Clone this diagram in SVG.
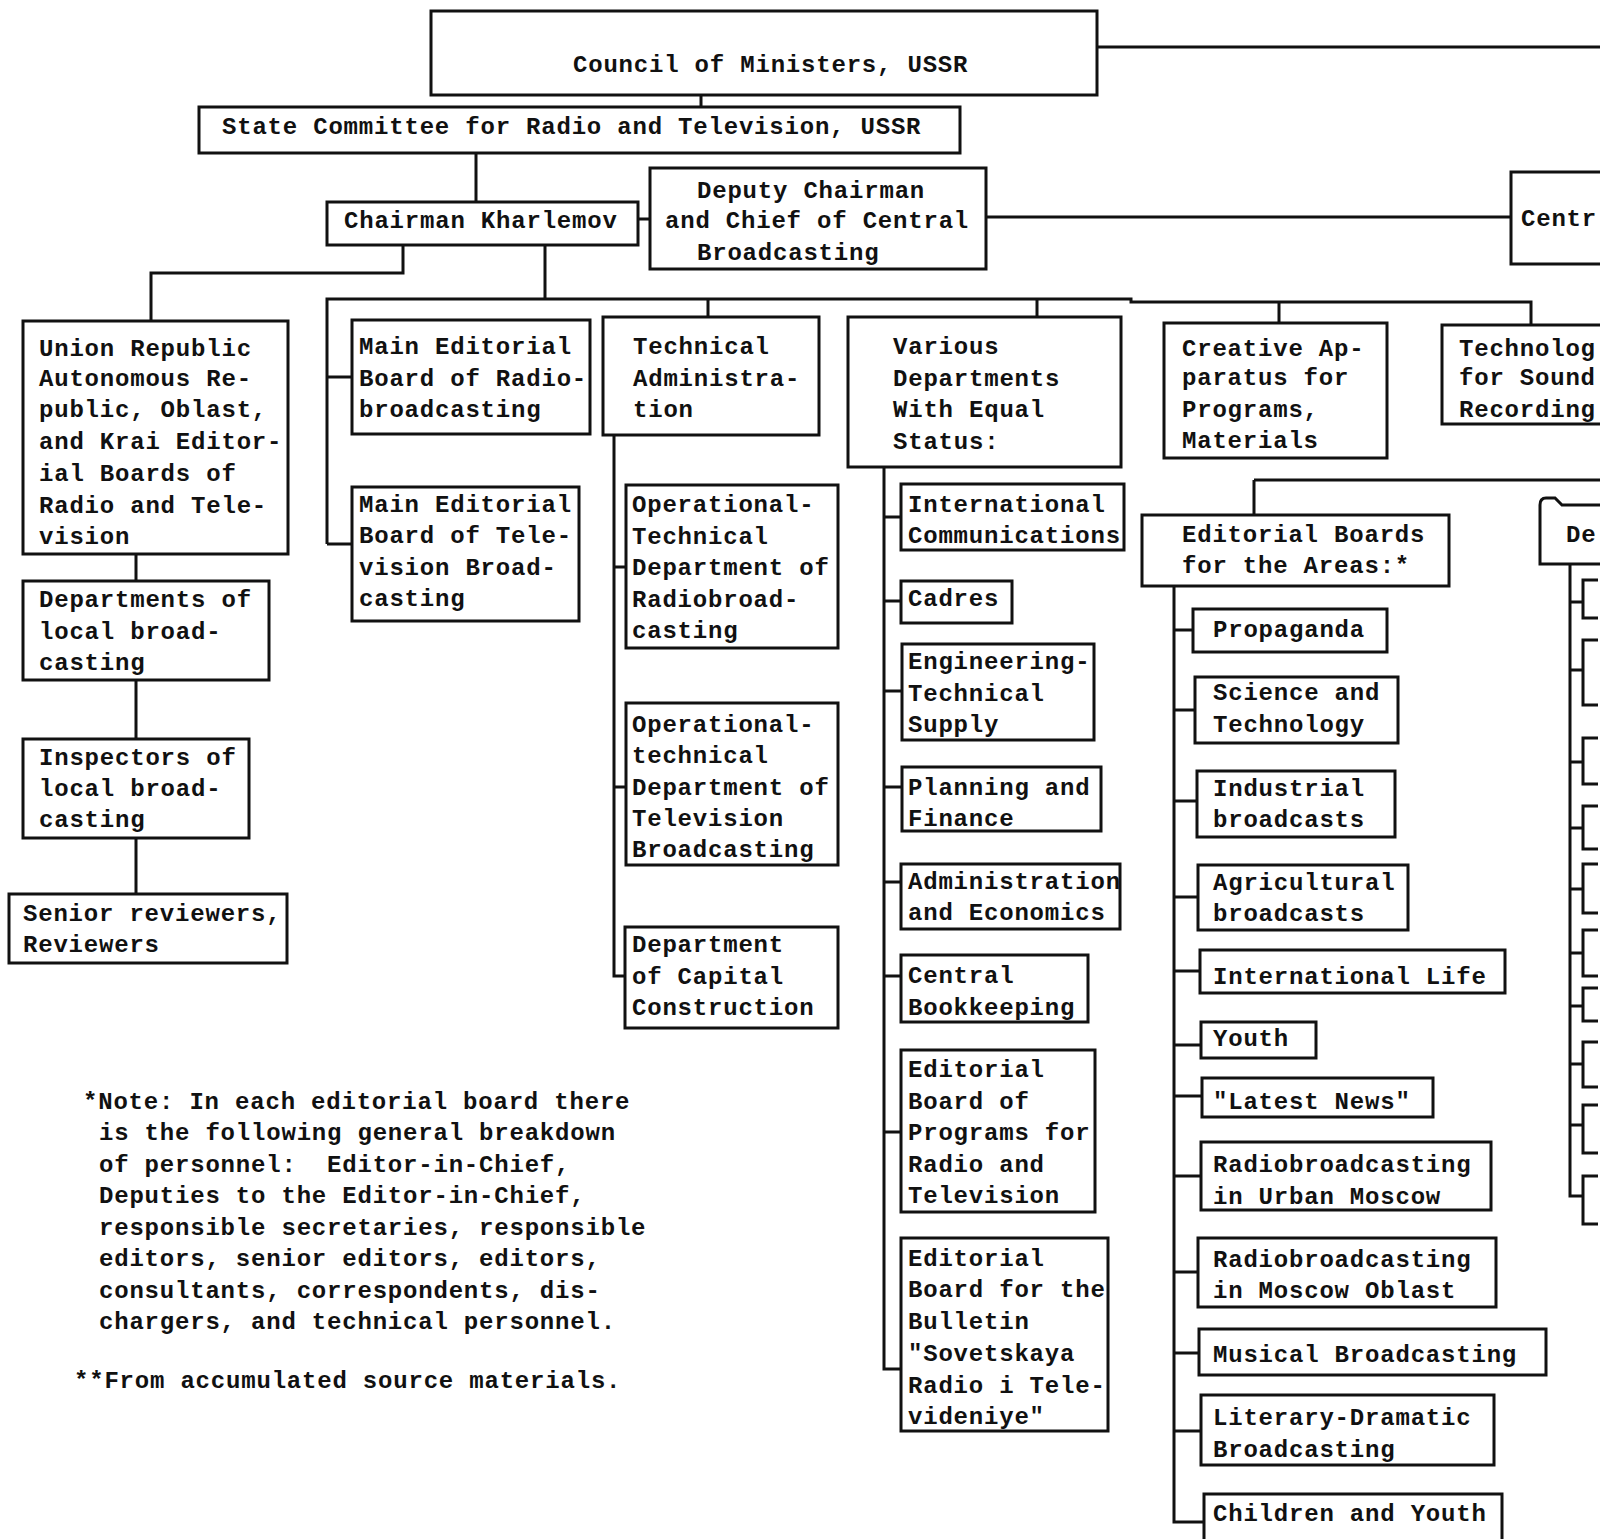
<svg xmlns="http://www.w3.org/2000/svg" width="1617" height="1539" viewBox="0 0 1617 1539">
<style>
.b{fill:#fff;stroke:#111;stroke-width:3}
.o{fill:none;stroke:#111;stroke-width:3}
.c{fill:none;stroke:#111;stroke-width:3}
text{font-family:"Liberation Mono","DejaVu Sans Mono",monospace;font-size:24px;font-weight:bold;letter-spacing:0.8px;fill:#111}
</style>
<rect width="1617" height="1539" fill="#fff"/>
<g id="connectors">
<path class="c" d="M1097,47H1600 M701,95V107 M476,153V202 M638,219H650 M986,217H1511"/>
<path class="c" d="M403,245V273H151V321 M545,245V299 M327,544V299H1131V302H1531V325 M708,299V317 M1037,299V317 M1279,302V323 M327,377H352 M327,544H352"/>
<path class="c" d="M136,554V581 M136,680V739 M136,838V894"/>
<path class="c" d="M614,435V976H625 M614,567H626 M614,787H626"/>
<path class="c" d="M884,467V1369H901 M884,517H901 M884,601H901 M884,691H902 M884,787H902 M884,882H901 M884,976H901 M884,1132H901"/>
<path class="c" d="M1254,480H1600 M1254,480V515 M1174,586V1522H1204 M1174,630H1193 M1174,710H1195 M1174,801H1197 M1174,897H1198 M1174,971H1200 M1174,1045H1201 M1174,1096H1202 M1174,1176H1201 M1174,1272H1198 M1174,1353H1199 M1174,1431H1201"/>
<path class="c" d="M1570,564V1196H1583 M1570,602H1583 M1570,670H1583 M1570,762H1583 M1570,828H1583 M1570,889H1583 M1570,953H1583 M1570,1006H1583 M1570,1064H1583 M1570,1125H1583"/>
</g>
<g id="council"><rect class="b" x="431" y="11" width="666" height="84"/><text x="573" y="72">Council of Ministers, USSR</text></g>
<g id="state-committee"><rect class="b" x="199" y="107" width="761" height="46"/><text x="222" y="134">State Committee for Radio and Television, USSR</text></g>
<g id="chairman"><rect class="b" x="327" y="202" width="311" height="43"/><text x="344" y="228">Chairman Kharlemov</text></g>
<g id="deputy"><rect class="b" x="650" y="168" width="336" height="101"/><text><tspan x="697" y="198">Deputy Chairman</tspan><tspan x="665" y="228">and Chief of Central</tspan><tspan x="697" y="260">Broadcasting</tspan></text></g>
<g id="central-clipped"><path class="o" d="M1600,172H1511V264H1600"/><text x="1521" y="226">Centr</text></g>
<g id="union-republic"><rect class="b" x="23" y="321" width="265" height="233"/><text><tspan x="39" y="356">Union Republic</tspan><tspan x="39" y="386">Autonomous Re-</tspan><tspan x="39" y="417">public, Oblast,</tspan><tspan x="39" y="449">and Krai Editor-</tspan><tspan x="39" y="481">ial Boards of</tspan><tspan x="39" y="513">Radio and Tele-</tspan><tspan x="39" y="544">vision</tspan></text></g>
<g id="dept-local"><rect class="b" x="23" y="581" width="246" height="99"/><text><tspan x="39" y="607">Departments of</tspan><tspan x="39" y="639">local broad-</tspan><tspan x="39" y="670">casting</tspan></text></g>
<g id="inspectors"><rect class="b" x="23" y="739" width="226" height="99"/><text><tspan x="39" y="765">Inspectors of</tspan><tspan x="39" y="796">local broad-</tspan><tspan x="39" y="827">casting</tspan></text></g>
<g id="reviewers"><rect class="b" x="9" y="894" width="278" height="69"/><text><tspan x="23" y="921">Senior reviewers,</tspan><tspan x="23" y="952">Reviewers</tspan></text></g>
<g id="main-radio"><rect class="b" x="352" y="320" width="238" height="114"/><text><tspan x="359" y="354">Main Editorial</tspan><tspan x="359" y="386">Board of Radio-</tspan><tspan x="359" y="417">broadcasting</tspan></text></g>
<g id="main-tv"><rect class="b" x="352" y="487" width="227" height="134"/><text><tspan x="359" y="512">Main Editorial</tspan><tspan x="359" y="543">Board of Tele-</tspan><tspan x="359" y="575">vision Broad-</tspan><tspan x="359" y="606">casting</tspan></text></g>
<g id="technical-admin"><rect class="b" x="603" y="317" width="216" height="118"/><text><tspan x="633" y="354">Technical</tspan><tspan x="633" y="386">Administra-</tspan><tspan x="633" y="417">tion</tspan></text></g>
<g id="optech-radio"><rect class="b" x="626" y="485" width="212" height="163"/><text><tspan x="632" y="512">Operational-</tspan><tspan x="632" y="544">Technical</tspan><tspan x="632" y="575">Department of</tspan><tspan x="632" y="607">Radiobroad-</tspan><tspan x="632" y="638">casting</tspan></text></g>
<g id="optech-tv"><rect class="b" x="626" y="703" width="212" height="162"/><text><tspan x="632" y="732">Operational-</tspan><tspan x="632" y="763">technical</tspan><tspan x="632" y="795">Department of</tspan><tspan x="632" y="826">Television</tspan><tspan x="632" y="857">Broadcasting</tspan></text></g>
<g id="capital-construction"><rect class="b" x="625" y="927" width="213" height="101"/><text><tspan x="632" y="952">Department</tspan><tspan x="632" y="984">of Capital</tspan><tspan x="632" y="1015">Construction</tspan></text></g>
<g id="various"><rect class="b" x="848" y="317" width="273" height="150"/><text><tspan x="893" y="354">Various</tspan><tspan x="893" y="386">Departments</tspan><tspan x="893" y="417">With Equal</tspan><tspan x="893" y="449">Status:</tspan></text></g>
<g id="intl-comm"><rect class="b" x="901" y="484" width="223" height="66"/><text><tspan x="908" y="512">International</tspan><tspan x="908" y="543">Communications</tspan></text></g>
<g id="cadres"><rect class="b" x="901" y="581" width="111" height="42"/><text x="908" y="606">Cadres</text></g>
<g id="engineering"><rect class="b" x="902" y="644" width="192" height="96"/><text><tspan x="908" y="669">Engineering-</tspan><tspan x="908" y="701">Technical</tspan><tspan x="908" y="732">Supply</tspan></text></g>
<g id="planning"><rect class="b" x="902" y="767" width="199" height="64"/><text><tspan x="908" y="795">Planning and</tspan><tspan x="908" y="826">Finance</tspan></text></g>
<g id="administration"><rect class="b" x="901" y="864" width="219" height="65"/><text><tspan x="908" y="889">Administration</tspan><tspan x="908" y="920">and Economics</tspan></text></g>
<g id="bookkeeping"><rect class="b" x="901" y="955" width="187" height="67"/><text><tspan x="908" y="983">Central</tspan><tspan x="908" y="1015">Bookkeeping</tspan></text></g>
<g id="ed-programs"><rect class="b" x="901" y="1050" width="194" height="162"/><text><tspan x="908" y="1077">Editorial</tspan><tspan x="908" y="1109">Board of</tspan><tspan x="908" y="1140">Programs for</tspan><tspan x="908" y="1172">Radio and</tspan><tspan x="908" y="1203">Television</tspan></text></g>
<g id="ed-bulletin"><rect class="b" x="901" y="1238" width="207" height="193"/><text><tspan x="908" y="1266">Editorial</tspan><tspan x="908" y="1297">Board for the</tspan><tspan x="908" y="1329">Bulletin</tspan><tspan x="908" y="1361">"Sovetskaya</tspan><tspan x="908" y="1393">Radio i Tele-</tspan><tspan x="908" y="1424">videniye"</tspan></text></g>
<g id="creative"><rect class="b" x="1164" y="323" width="223" height="135"/><text><tspan x="1182" y="356">Creative Ap-</tspan><tspan x="1182" y="385">paratus for</tspan><tspan x="1182" y="417">Programs,</tspan><tspan x="1182" y="448">Materials</tspan></text></g>
<g id="technology-clipped"><path class="o" d="M1600,325H1442V424H1600"/><text><tspan x="1459" y="356">Technolog</tspan><tspan x="1459" y="385">for Sound</tspan><tspan x="1459" y="417">Recording</tspan></text></g>
<g id="ed-areas"><rect class="b" x="1142" y="515" width="307" height="71"/><text><tspan x="1182" y="542">Editorial Boards</tspan><tspan x="1182" y="573">for the Areas:*</tspan></text></g>
<g id="propaganda"><rect class="b" x="1193" y="609" width="194" height="43"/><text x="1213" y="637">Propaganda</text></g>
<g id="science"><rect class="b" x="1195" y="677" width="203" height="66"/><text><tspan x="1213" y="700">Science and</tspan><tspan x="1213" y="732">Technology</tspan></text></g>
<g id="industrial"><rect class="b" x="1197" y="771" width="198" height="66"/><text><tspan x="1213" y="796">Industrial</tspan><tspan x="1213" y="827">broadcasts</tspan></text></g>
<g id="agricultural"><rect class="b" x="1198" y="865" width="210" height="65"/><text><tspan x="1213" y="890">Agricultural</tspan><tspan x="1213" y="921">broadcasts</tspan></text></g>
<g id="intl-life"><rect class="b" x="1200" y="950" width="305" height="43"/><text x="1213" y="984">International Life</text></g>
<g id="youth"><rect class="b" x="1201" y="1022" width="115" height="36"/><text x="1213" y="1046">Youth</text></g>
<g id="latest-news"><rect class="b" x="1202" y="1078" width="231" height="39"/><text x="1213" y="1109">"Latest News"</text></g>
<g id="urban-moscow"><rect class="b" x="1201" y="1142" width="290" height="68"/><text><tspan x="1213" y="1172">Radiobroadcasting</tspan><tspan x="1213" y="1204">in Urban Moscow</tspan></text></g>
<g id="moscow-oblast"><rect class="b" x="1198" y="1238" width="298" height="69"/><text><tspan x="1213" y="1267">Radiobroadcasting</tspan><tspan x="1213" y="1298">in Moscow Oblast</tspan></text></g>
<g id="musical"><rect class="b" x="1199" y="1329" width="347" height="46"/><text x="1213" y="1362">Musical Broadcasting</text></g>
<g id="literary"><rect class="b" x="1201" y="1395" width="293" height="70"/><text><tspan x="1213" y="1425">Literary-Dramatic</tspan><tspan x="1213" y="1457">Broadcasting</tspan></text></g>
<g id="children"><path class="o" d="M1204,1539V1494H1502V1539"/><text x="1213" y="1521">Children and Youth</text></g>
<g id="de-clipped"><path class="o" d="M1600,505H1562L1555,498H1546Q1540,498 1540,505V564H1600"/><text x="1566" y="542">De</text></g>
<g id="de-brackets"><path class="o" d="M1598,580H1583V618H1598 M1598,640H1583V705H1598 M1598,738H1583V784H1598 M1598,806H1583V849H1598 M1598,864H1583V913H1598 M1598,930H1583V976H1598 M1598,988H1583V1021H1598 M1598,1042H1583V1087H1598 M1598,1105H1583V1153H1598 M1598,1176H1583V1224H1598"/></g>
<g id="footnote"><text><tspan x="83" y="1109">*Note: In each editorial board there</tspan><tspan x="99" y="1140">is the following general breakdown</tspan><tspan x="99" y="1172">of personnel:&#160; Editor-in-Chief,</tspan><tspan x="99" y="1203">Deputies to the Editor-in-Chief,</tspan><tspan x="99" y="1235">responsible secretaries, responsible</tspan><tspan x="99" y="1266">editors, senior editors, editors,</tspan><tspan x="99" y="1298">consultants, correspondents, dis-</tspan><tspan x="99" y="1329">chargers, and technical personnel.</tspan><tspan x="74" y="1388">**From accumulated source materials.</tspan></text></g>
</svg>
